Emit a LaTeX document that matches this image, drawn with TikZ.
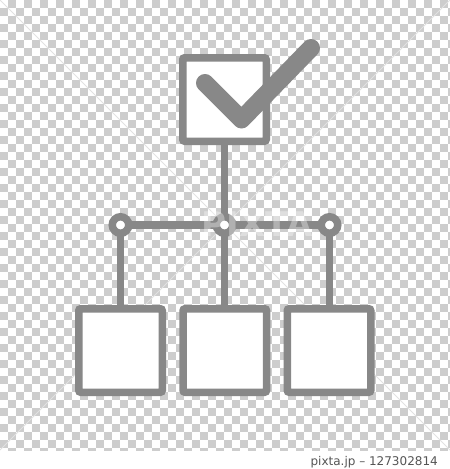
\documentclass[tikz,border=0pt]{standalone}
\usepackage{fontspec}
\newfontfamily\wmfont{DejaVu Sans}
\definecolor{icongray}{RGB}{136,136,136}
\definecolor{checkgray}{RGB}{205,205,205}
\definecolor{txtgray}{RGB}{85,85,85}
\definecolor{diaggray}{RGB}{225,225,225}
\tikzset{
  boxnode/.style={draw=icongray, line width=7.5pt, fill=white, minimum size=83.5pt, inner sep=0pt, rounded corners=2pt},
  ringnode/.style={circle, draw=icongray, line width=7.5pt, fill=white, minimum size=16.5pt, inner sep=0pt},
  wire/.style={draw=icongray, line width=7.5pt, shorten <=-1pt, shorten >=-1pt},
  tickmark/.style={draw=icongray, line width=18pt, line cap=round, line join=round},
  diagline/.style={draw=diaggray, line width=0.8pt},
}
\begin{document}
\begin{tikzpicture}[x=1pt,y=-1pt]
\useasboundingbox (0,0) rectangle (450,469);
\fill[white] (0,0) rectangle (450,469);
% transparency checkerboard
\begin{scope}
  \clip (0,0) rectangle (450,450);
  \foreach \j in {0,...,56}{
    \pgfmathtruncatemacro\off{mod(\j+1,2)*8}
    \foreach \i in {0,16,...,448}{
      \fill[checkgray] (\i+\off,\j*8) rectangle ++(8,8);
    }
  }
\end{scope}
% faint watermark diagonals
\draw[diagline] (0,0) -- (450,450);
\draw[diagline] (450,0) -- (0,450);

% nodes
\node[boxnode] (top) at (224.5,99.5) {};
\node[ringnode] (c1) at (120.5,225) {};
\node[ringnode] (c2) at (224.5,225) {};
\node[ringnode] (c3) at (329.5,225) {};
\node[boxnode] (b1) at (120.5,350.5) {};
\node[boxnode] (b2) at (224.8,350.5) {};
\node[boxnode] (b3) at (329,350.5) {};

% connectors
\draw[wire] (top.south) -- (c2.north);
\draw[wire] (c1.east) -- (c2.west);
\draw[wire] (c2.east) -- (c3.west);
\draw[wire] (c1.south) -- (c1.south |- b1.north);
\draw[wire] (c2.south) -- (c2.south |- b2.north);
\draw[wire] (c3.south) -- (c3.south |- b3.north);

% check mark
\draw[tickmark] (205,83) -- (241.5,119.5) -- (311,48);

% faint watermark text
\node[text=white, opacity=0.35, font=\wmfont\bfseries\fontsize{34}{36}\selectfont, inner sep=0pt] (wm) at (257,224) {PIXTA};

% credit line
\node[anchor=base east, font=\wmfont\fontsize{12}{14}\selectfont, text=txtgray, inner sep=0pt] (credit) at (438,465) {pixta.jp – 127302814};
\end{tikzpicture}
\end{document}
